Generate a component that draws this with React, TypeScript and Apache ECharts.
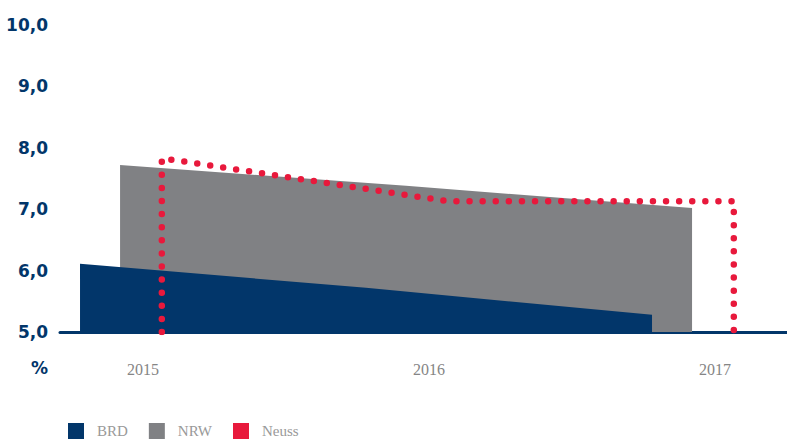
import React, { useEffect, useRef } from "react";
import * as echarts from "echarts";

const years = [2015, 2016, 2017];
const brdValues = [6.11, 5.72, 5.28];
const nrwValues = [7.72, 7.38, 7.02];
const neussValues = [7.83, 7.13, 7.13];
const seriesNames = ["BRD", "NRW", "Neuss"];
const yMin = 5;
const yMax = 10;

const NAVY = "#02366a";
const GRAY = "#808184";
const RED = "#e8193c";

// per-series horizontal shift (in years) so the three series are staggered
const SHIFT = { BRD: -0.22, NRW: -0.08, Neuss: 0.066 };

export default function App() {
  const ref = useRef<HTMLDivElement>(null);
  useEffect(() => {
    const chart = echarts.init(ref.current!, null, { renderer: "svg" });
    const pts = (vals: number[], shift: number) => vals.map((v, i) => [years[i] + shift, v]);
    const neussPts = [
      [years[0] + SHIFT.Neuss, yMin],
      ...pts(neussValues, SHIFT.Neuss),
      [years[years.length - 1] + SHIFT.Neuss, yMin],
    ];
    chart.setOption({
      animation: false,
      grid: { left: 60, right: 0, top: 25, bottom: 107 },
      xAxis: {
        type: "value",
        min: 2014.71,
        max: 2017.252,
        axisLine: { show: true, lineStyle: { color: NAVY, width: 3 } },
        axisTick: { show: false },
        splitLine: { show: false },
        axisLabel: {
          customValues: years,
          margin: 29,
          color: "#858585",
          fontFamily: "Liberation Serif",
          fontSize: 16,
          formatter: (v: number) => String(Math.round(v)),
        },
      },
      yAxis: {
        type: "value",
        min: yMin,
        max: yMax,
        interval: 1,
        axisLine: { show: false },
        axisTick: { show: false },
        splitLine: { show: false },
        axisLabel: {
          margin: 12,
          color: NAVY,
          fontFamily: "DejaVu Sans",
          fontWeight: "bold",
          fontSize: 17,
          formatter: (v: number) => v.toFixed(1).replace(".", ","),
        },
      },
      legend: {
        left: 63,
        top: 418,
        itemWidth: 16,
        itemHeight: 16,
        itemGap: 21,
        icon: "rect",
        textStyle: {
          color: "#999999",
          fontFamily: "Liberation Serif",
          fontSize: 15,
          lineHeight: 16,
          padding: [0, 0, 0, 8],
        },
        data: [
          { name: "BRD", itemStyle: { color: NAVY } },
          { name: "NRW", itemStyle: { color: GRAY } },
          { name: "Neuss", itemStyle: { color: RED } },
        ],
      },
      graphic: [
        {
          type: "text",
          x: 48,
          y: 368,
          style: {
            text: "%",
            fill: NAVY,
            font: "bold 17px 'DejaVu Sans'",
            textAlign: "right",
            textVerticalAlign: "middle",
          },
        },
      ],
      series: [
        {
          name: seriesNames[1],
          type: "line",
          z: 1,
          symbol: "none",
          data: pts(nrwValues, SHIFT.NRW),
          lineStyle: { width: 0, color: GRAY },
          itemStyle: { color: GRAY },
          areaStyle: { color: GRAY, opacity: 1, origin: "start" },
        },
        {
          name: seriesNames[0],
          type: "line",
          z: 2,
          symbol: "none",
          data: pts(brdValues, SHIFT.BRD),
          lineStyle: { width: 0, color: NAVY },
          itemStyle: { color: NAVY },
          areaStyle: { color: NAVY, opacity: 1, origin: "start" },
        },
        {
          name: seriesNames[2],
          type: "line",
          z: 3,
          symbol: "none",
          data: neussPts,
          itemStyle: { color: RED },
          lineStyle: { color: RED, width: 6.5, type: [0, 13.1], cap: "round", join: "round" },
        },
      ],
    });
    return () => chart.dispose();
  }, []);
  return (
    <div
      ref={ref}
      style={{ position: "fixed", left: 0, top: 0, width: 787, height: 439, background: "#fff" }}
    />
  );
}
